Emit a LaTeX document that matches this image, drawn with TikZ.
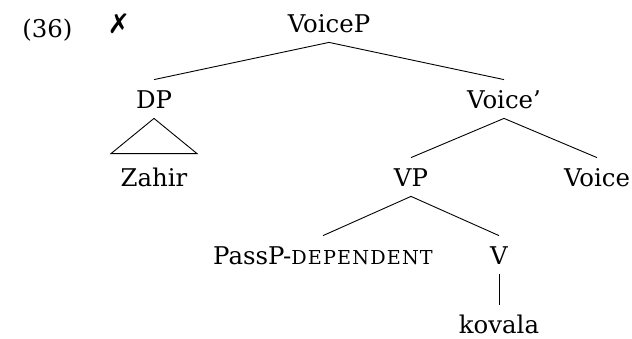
\documentclass[tikz,border=0pt]{standalone}
\usepackage{fontspec}
\setmainfont{DejaVu Serif}
\newfontfamily\symbolfont{DejaVu Sans}
\newfontfamily\scfont[LetterSpace=6]{DejaVu Serif}
\usetikzlibrary{trees}
\usetikzlibrary{calc}

\begin{document}
\begin{tikzpicture}[
      grow=down,
      level distance=42.5pt,
      level 1/.style={sibling distance=175pt},
      level 2/.style={sibling distance=93pt, level distance=43.5pt},
      level 3/.style={sibling distance=88pt},
      level 4/.style={level distance=39pt},
      edge from parent/.style={draw, line width=0.45pt},
      edge from parent path={(\tikzparentnode.south) -- (\tikzchildnode.north)},
      every node/.style={font=\fontsize{12.2pt}{14pt}\selectfont},
      cat/.style={anchor=base, inner xsep=0pt, inner ysep=5pt, text height=9pt, text depth=0pt},
      leaf/.style={inner ysep=1pt, text height=13pt},
      every child node/.style={cat}
    ]
    \useasboundingbox (0,0) rectangle (316pt,-169pt);
    % example number and judgement mark
    \node[anchor=base west, inner sep=0pt] (exnum) at (11pt,-18.5pt) {(36)};
    \node[inner sep=0pt] (mark) at (59.5pt,-12pt) {\symbolfont\bfseries\fontsize{13.5pt}{14pt}\selectfont ✗};
    % the tree
    \node[cat] (voicep) at (164.5pt,-16pt) {VoiceP}
      child {
        node (dp) {DP}
          child { node (zahir) {Zahir} edge from parent[draw=none] }
      }
      child {
        node (voicebar) {Voice'}
          child {
            node (vp) {VP}
              child { node (passp) {PassP-{\scfont\fontsize{9.6pt}{12pt}\selectfont DEPENDENT}} }
              child {
                node (v) {V}
                  child { node[leaf] (kovala) {kovala} }
              }
          }
          child { node (voice) {Voice} }
      };
    % roof over the DP
    \draw[line width=0.45pt] (dp.south) -- ($(zahir.north)+(-21.5pt,2pt)$) -- ($(zahir.north)+(21.5pt,2pt)$) -- cycle;
  \end{tikzpicture}
\end{document}
